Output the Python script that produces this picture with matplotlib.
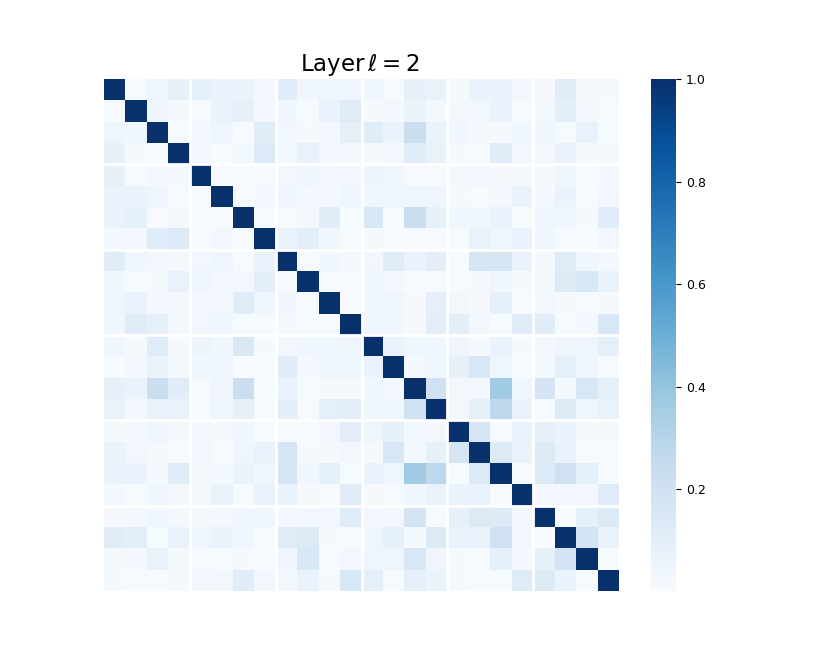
import numpy as np
import matplotlib
matplotlib.use("Agg")
import matplotlib.pyplot as plt
import seaborn as sns

# upper triangle of the correlation matrix, one list per row (diagonal left out)
upper = [
    [.012, .05, .09, .09, .07, .065, .025, .115, .04, .05, .04, .04, .012, .09, .075, .02, .065, .065, .025, .015, .115, .02, .02],
    [.04, .02, .012, .065, .09, .025, .04, .012, .065, .125, .02, .025, .065, .025, .025, .03, .065, .012, .025, .10, .025, .012],
    [.012, .025, .05, .006, .115, .03, .02, .025, .09, .115, .065, .23, .065, .04, .02, .02, .04, .04, .01, .075, .012],
    [.025, .01, .025, .14, .025, .075, .025, .025, .02, .025, .115, .075, .02, .006, .125, .03, .025, .065, .02, .015],
    [.006, .006, .006, .03, .045, .025, .03, .055, .04, .006, .01, .025, .03, .015, .02, .02, .05, .012, .025],
    [.006, .025, .05, .025, .025, .04, .04, .04, .045, .045, .015, .01, .025, .065, .025, .065, .012, .03],
    [.012, .006, .03, .115, .01, .15, .004, .23, .09, .04, .05, .065, .012, .05, .04, .015, .115],
    [.065, .10, .04, .01, .02, .012, .012, .006, .01, .075, .045, .065, .04, .012, .012, .03],
    [.01, .04, .025, .03, .115, .065, .10, .009, .17, .17, .065, .025, .125, .04, .025],
    [.006, .012, .04, .025, .012, .01, .012, .02, .04, .015, .03, .135, .15, .065],
    [.006, .04, .05, .015, .095, .03, .015, .09, .006, .03, .02, .01, .02],
    [.05, .04, .015, .10, .105, .03, .012, .115, .115, .012, .025, .16],
    [.065, .04, .04, .045, .02, .065, .015, .025, .045, .045, .095],
    [.025, .04, .09, .16, .05, .012, .025, .09, .05, .01],
    [.20, .03, .025, .37, .04, .18, .02, .16, .095],
    [.03, .09, .28, .065, .012, .135, .05, .065],
    [.17, .012, .065, .09, .065, .02, .015],
    [.135, .075, .135, .075, .012, .012],
    [.006, .135, .20, .09, .01],
    [.025, .025, .025, .125],
    [.004, .09, .135],
    [.18, .065],
    [.012],
]
block_edges = [4, 8, 12, 16, 20]
title = r"Layer$\,\ell = 2$"

n = len(upper) + 1
corr = np.eye(n)
for i, row in enumerate(upper):
    corr[i, i + 1:] = row
    corr[i + 1:, i] = row

W, H = 830, 664
fig = plt.figure(figsize=(W / 100, H / 100), dpi=100)
ax = fig.add_axes([104 / W, 1 - 591 / H, 515 / W, 512 / H])
cax = fig.add_axes([651 / W, 1 - 591 / H, 25 / W, 512 / H])

sns.heatmap(corr, cmap="Blues", vmin=0.001, vmax=1, ax=ax, cbar_ax=cax,
            xticklabels=False, yticklabels=False)
ax.hlines(block_edges, 0, n, color="white", lw=2)
ax.vlines(block_edges, 0, n, color="white", lw=2)
ax.tick_params(length=0)
ax.set_title(title, fontsize=16.5, pad=6, x=0.497)

cax.set_yticks([0.2, 0.4, 0.6, 0.8, 1.0])
cax.tick_params(labelsize=9, length=3.5, width=0.8)

fig.savefig("out.png", dpi=100)
